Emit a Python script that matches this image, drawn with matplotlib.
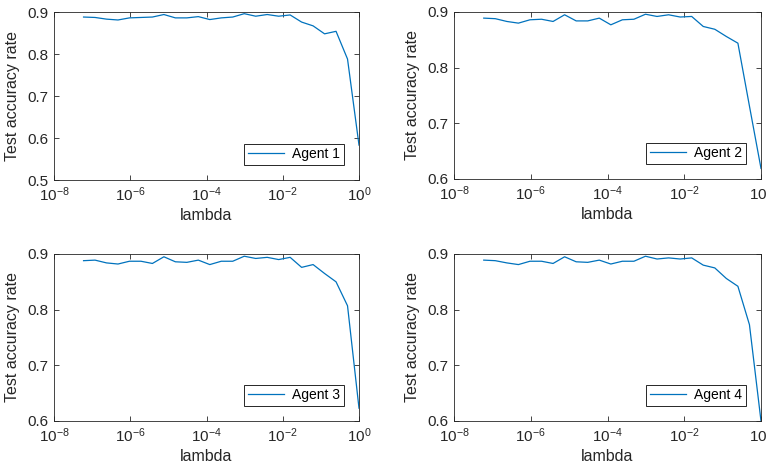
import numpy as np
import matplotlib.pyplot as plt
from matplotlib.ticker import NullLocator, FixedLocator

plt.rcParams['font.family'] = ['Liberation Sans', 'DejaVu Sans']
plt.rcParams['mathtext.fontset'] = 'custom'
plt.rcParams['mathtext.rm'] = 'Liberation Sans'
plt.rcParams['mathtext.it'] = 'Liberation Sans:italic'
plt.rcParams['mathtext.default'] = 'regular'
plt.rcParams['axes.unicode_minus'] = False

# lambda = 2^-24 ... 2^0
exponents = np.arange(-24, 1)
lam = 2.0 ** exponents

agent1 = [0.888, 0.887, 0.883, 0.881, 0.886, 0.887, 0.888, 0.894, 0.886, 0.886,
          0.889, 0.882, 0.886, 0.888, 0.896, 0.890, 0.894, 0.890, 0.893, 0.876,
          0.867, 0.848, 0.854, 0.788, 0.583]
agent2 = [0.889, 0.888, 0.883, 0.880, 0.886, 0.887, 0.883, 0.895, 0.884, 0.884,
          0.889, 0.877, 0.886, 0.887, 0.896, 0.892, 0.895, 0.891, 0.892, 0.874,
          0.869, 0.856, 0.844, 0.731, 0.619]
agent3 = [0.888, 0.889, 0.884, 0.882, 0.887, 0.887, 0.883, 0.895, 0.886, 0.885,
          0.889, 0.881, 0.887, 0.887, 0.896, 0.892, 0.894, 0.890, 0.894, 0.876,
          0.881, 0.865, 0.850, 0.807, 0.623]
agent4 = [0.889, 0.888, 0.884, 0.881, 0.887, 0.887, 0.883, 0.895, 0.886, 0.885,
          0.889, 0.882, 0.887, 0.887, 0.896, 0.891, 0.893, 0.891, 0.893, 0.880,
          0.875, 0.856, 0.842, 0.773, 0.600]

series = [agent1, agent2, agent3, agent4]
labels = ["Agent 1", "Agent 2", "Agent 3", "Agent 4"]
ylims = [(0.5, 0.9), (0.6, 0.9), (0.6, 0.9), (0.6, 0.9)]
yticks = [[0.5, 0.6, 0.7, 0.8, 0.9], [0.6, 0.7, 0.8, 0.9],
          [0.6, 0.7, 0.8, 0.9], [0.6, 0.7, 0.8, 0.9]]

# axes rectangles (x0, y0, x1, y1) in pixels from the top-left
W, H = 766, 471
boxes = [(54, 12, 359, 180), (454, 12, 761, 179),
         (54, 254, 359, 421), (454, 254, 761, 421)]

fig = plt.figure(figsize=(W / 100, H / 100), dpi=100)
edge = '#262626'

for (x0, y0, x1, y1), vals, lab, yl, yt in zip(boxes, series, labels, ylims, yticks):
    ax = fig.add_axes([x0 / W, 1 - y1 / H, (x1 - x0) / W, (y1 - y0) / H])
    ax.plot(lam, vals, color='#0072BD', lw=0.9, label=lab)
    ax.set_xscale('log')
    ax.set_xlim(1e-8, 1)
    ax.set_ylim(*yl)
    ax.xaxis.set_major_locator(FixedLocator([1e-8, 1e-6, 1e-4, 1e-2, 1]))
    ax.xaxis.set_minor_locator(NullLocator())
    ax.set_yticks(yt)
    ax.set_yticklabels([f"{v:.1f}" for v in yt])
    ax.tick_params(direction='in', top=True, right=True, length=3.5,
                   width=0.6, colors=edge, labelsize=11, pad=4)
    for s in ax.spines.values():
        s.set_color(edge)
        s.set_linewidth(0.6)
    ax.set_xlabel("lambda", fontsize=11.5, color=edge, labelpad=3)
    ax.set_ylabel("Test accuracy rate", fontsize=11.5, color=edge, labelpad=5)
    leg = ax.legend(loc='lower right', fancybox=False, framealpha=1,
                    edgecolor=edge, fontsize=10, borderaxespad=1.1,
                    handlelength=2.6, handletextpad=0.6, borderpad=0.25)
    leg.get_frame().set_linewidth(0.7)

fig.savefig("out.png", dpi=100)
